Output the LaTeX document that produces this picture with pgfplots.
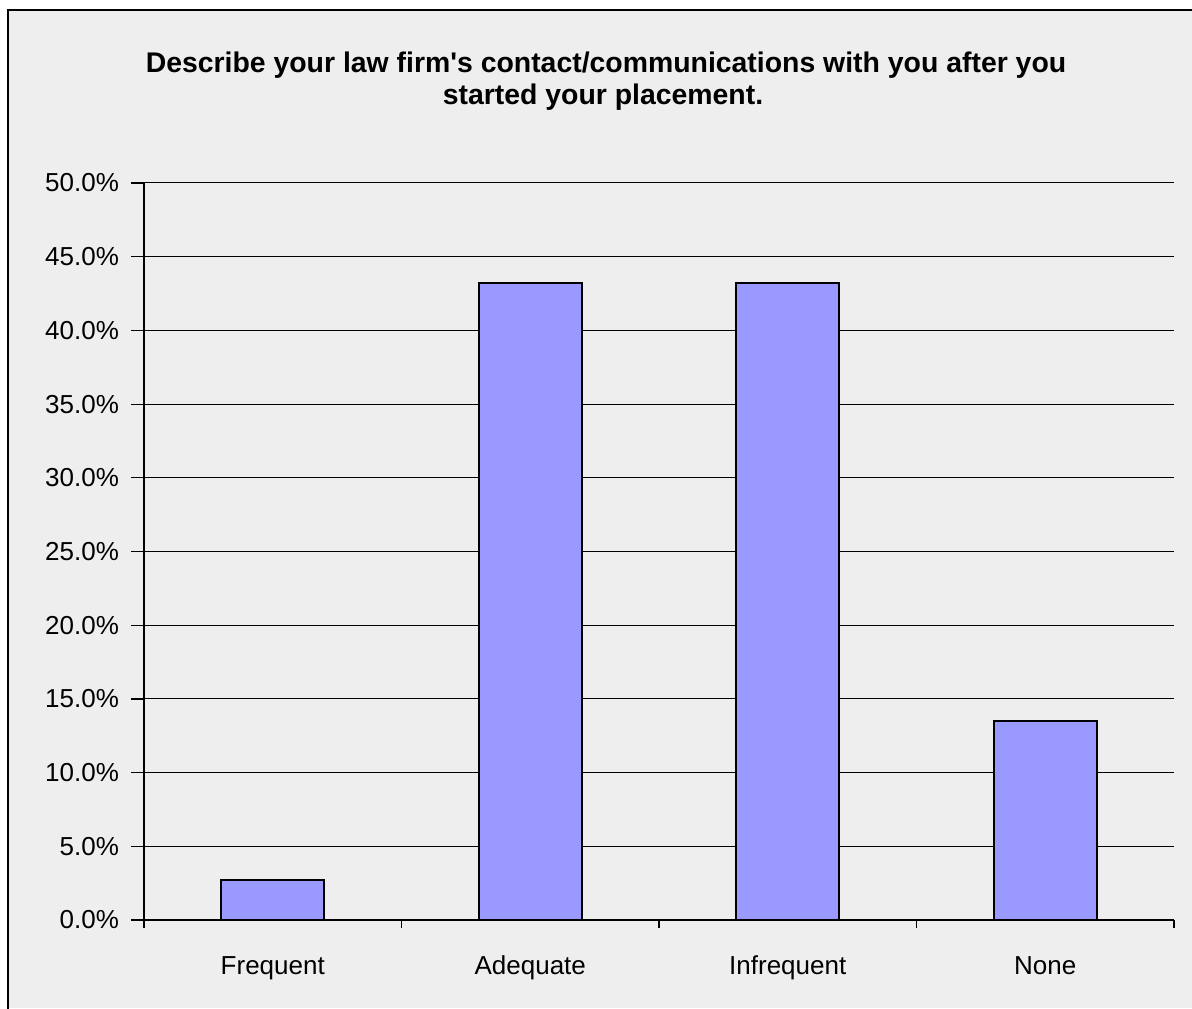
\documentclass[border=0pt]{standalone}
\usepackage{pgfplots}
\pgfplotsset{compat=1.18}
\usepackage{fontspec}
\setmainfont{Liberation Sans}
\definecolor{bgc}{HTML}{EEEEEE}
\definecolor{barc}{HTML}{9999FF}
\begin{document}
\begin{tikzpicture}[x=0.5pt,y=0.5pt]
\path[use as bounding box, fill=white] (0,0) rectangle (1192,1008);
\fill[bgc] (8,0) rectangle (1192,998);
\draw[line width=1.2pt] (8,-2) -- (8,998) -- (1194,998);
\node[font=\bfseries\fontsize{14.2}{16.5}\selectfont, anchor=base, inner sep=0pt] at (606,935) {Describe your law firm\textquotesingle s contact/communications with you after you};
\node[font=\bfseries\fontsize{14.2}{16.5}\selectfont, anchor=base, inner sep=0pt] at (603,903) {started your placement.};
\begin{axis}[
  at={(72pt,44pt)}, anchor=south west,
  scale only axis, width=515pt, height=368.5pt,
  xmin=-0.5, xmax=3.5, ymin=0, ymax=50,
  axis x line*=bottom, axis y line*=left,
  axis line style={black, line width=0.6pt, -},
  xtick={-0.5,0.5,1.5,2.5,3.5},
  x tick label as interval,
  xticklabels={Frequent,Adequate,Infrequent,None},
  x tick style={black, line width=0.6pt},
  ytick={0,5,...,50},
  yticklabel={\pgfmathprintnumber[fixed,fixed zerofill,precision=1]{\tick}\%},
  /pgf/number format/assume math mode=true,
  y tick style={black, line width=0.6pt},
  extra y ticks={0,5,...,50},
  extra y tick labels={},
  extra y tick style={major tick length=6.5pt, grid=none},
  major tick length=4pt, tick align=outside,
  ymajorgrids, grid style={black, line width=0.5pt},
  tick label style={font=\fontsize{13}{15}\selectfont},
  xticklabel style={yshift=-9.5pt, text height=10pt, text depth=3pt},
  yticklabel style={xshift=-5pt},
  ybar, bar width=51.5pt,
  clip=false,
]
\addplot[fill=barc, draw=black, line width=1.1pt] coordinates {(0,2.7) (1,43.2) (2,43.2) (3,13.5)};
\end{axis}
\end{tikzpicture}
\end{document}
